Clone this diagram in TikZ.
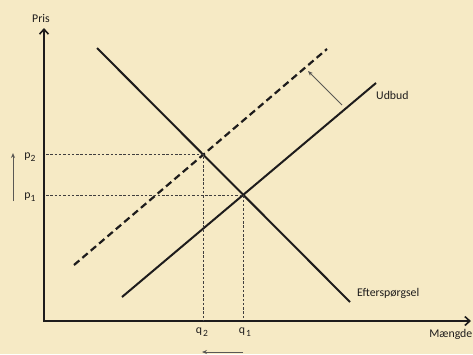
\documentclass[tikz,border=0pt]{standalone}
\usepackage{fontspec}
\setmainfont{Carlito}
\usetikzlibrary{arrows.meta}
\definecolor{bg}{RGB}{246,234,197}
\definecolor{ink}{RGB}{30,28,28}
\definecolor{movecol}{RGB}{90,88,84}
\tikzset{
  axis/.style={ink, line width=2pt, -{Straight Barb[length=5pt,width=9pt,line width=1.6pt]}},
  curve/.style={ink, line width=2pt},
  shifted/.style={ink, line width=2.2pt, dash pattern=on 7pt off 4pt},
  guide/.style={ink!85, line width=0.6pt, dash pattern=on 2.5pt off 1.8pt},
  move/.style={movecol, line width=0.9pt, -{Stealth[length=5pt,width=4pt]}},
  lbl/.style={font=\fontsize{11.8}{14}\selectfont, text=ink, inner sep=0pt}
}
\begin{document}
\begin{tikzpicture}[x=1pt,y=-1pt]
\fill[bg] (0,0) rectangle (473,354);
\useasboundingbox (0,0) rectangle (473,354);
% axes
\coordinate (O) at (44,322);
\coordinate (ytop) at (44,28);
\coordinate (xend) at (471,321);
\coordinate (xstart) at (43,321);
\draw[axis] (O) -- (ytop);
\draw[axis] (xstart) -- (xend);
% curves
\coordinate (d1) at (97,48);
\coordinate (d2) at (350,302);
\coordinate (s1) at (122,297);
\coordinate (s2) at (376,83);
\coordinate (n1) at (74,265);
\coordinate (n2) at (327,49);
\draw[curve] (d1) -- (d2);
\draw[curve] (s1) -- (s2);
\draw[shifted] (n1) -- (n2);
\coordinate (E1) at (intersection of d1--d2 and s1--s2);
\coordinate (E2) at (intersection of d1--d2 and n1--n2);
% guide lines
\coordinate (yaxisA) at (46,0);
\coordinate (xaxisA) at (0,320);
\draw[guide] (E1 -| yaxisA) -- (E1) -- (E1 |- xaxisA);
\draw[guide] (E2 -| yaxisA) -- (E2) -- (E2 |- xaxisA);
% shift arrows
\coordinate (a1) at (342,105);
\coordinate (a2) at (308,71);
\draw[move] (a1) -- (a2);
\coordinate (pa1) at (13,201);
\coordinate (pa2) at (13,153);
\draw[move] (pa1) -- (pa2);
\coordinate (qa1) at (243,352);
\coordinate (qa2) at (202,352);
\draw[move] (qa1) -- (qa2);
% labels
\node[lbl] (pris) at (41,18) {Pris};
\node[lbl] (p2) at (30,157) {p\raisebox{-3.5pt}{\fontsize{9.5}{10}\selectfont 2}};
\node[lbl] (p1) at (30,197) {p\raisebox{-3.5pt}{\fontsize{9.5}{10}\selectfont 1}};
\node[lbl] (q2) at (202,332) {q\raisebox{-3.5pt}{\hspace{1pt}\fontsize{9.5}{10}\selectfont 2}};
\node[lbl] (q1) at (245,332) {q\raisebox{-3.5pt}{\hspace{1pt}\fontsize{9.5}{10}\selectfont 1}};
\node[lbl, anchor=west] (udbud) at (376,95) {Udbud};
\node[lbl, anchor=west] (eft) at (357,293) {Efterspørgsel};
\node[lbl, anchor=east] (maengde) at (472.5,334) {Mængde};
\end{tikzpicture}
\end{document}
